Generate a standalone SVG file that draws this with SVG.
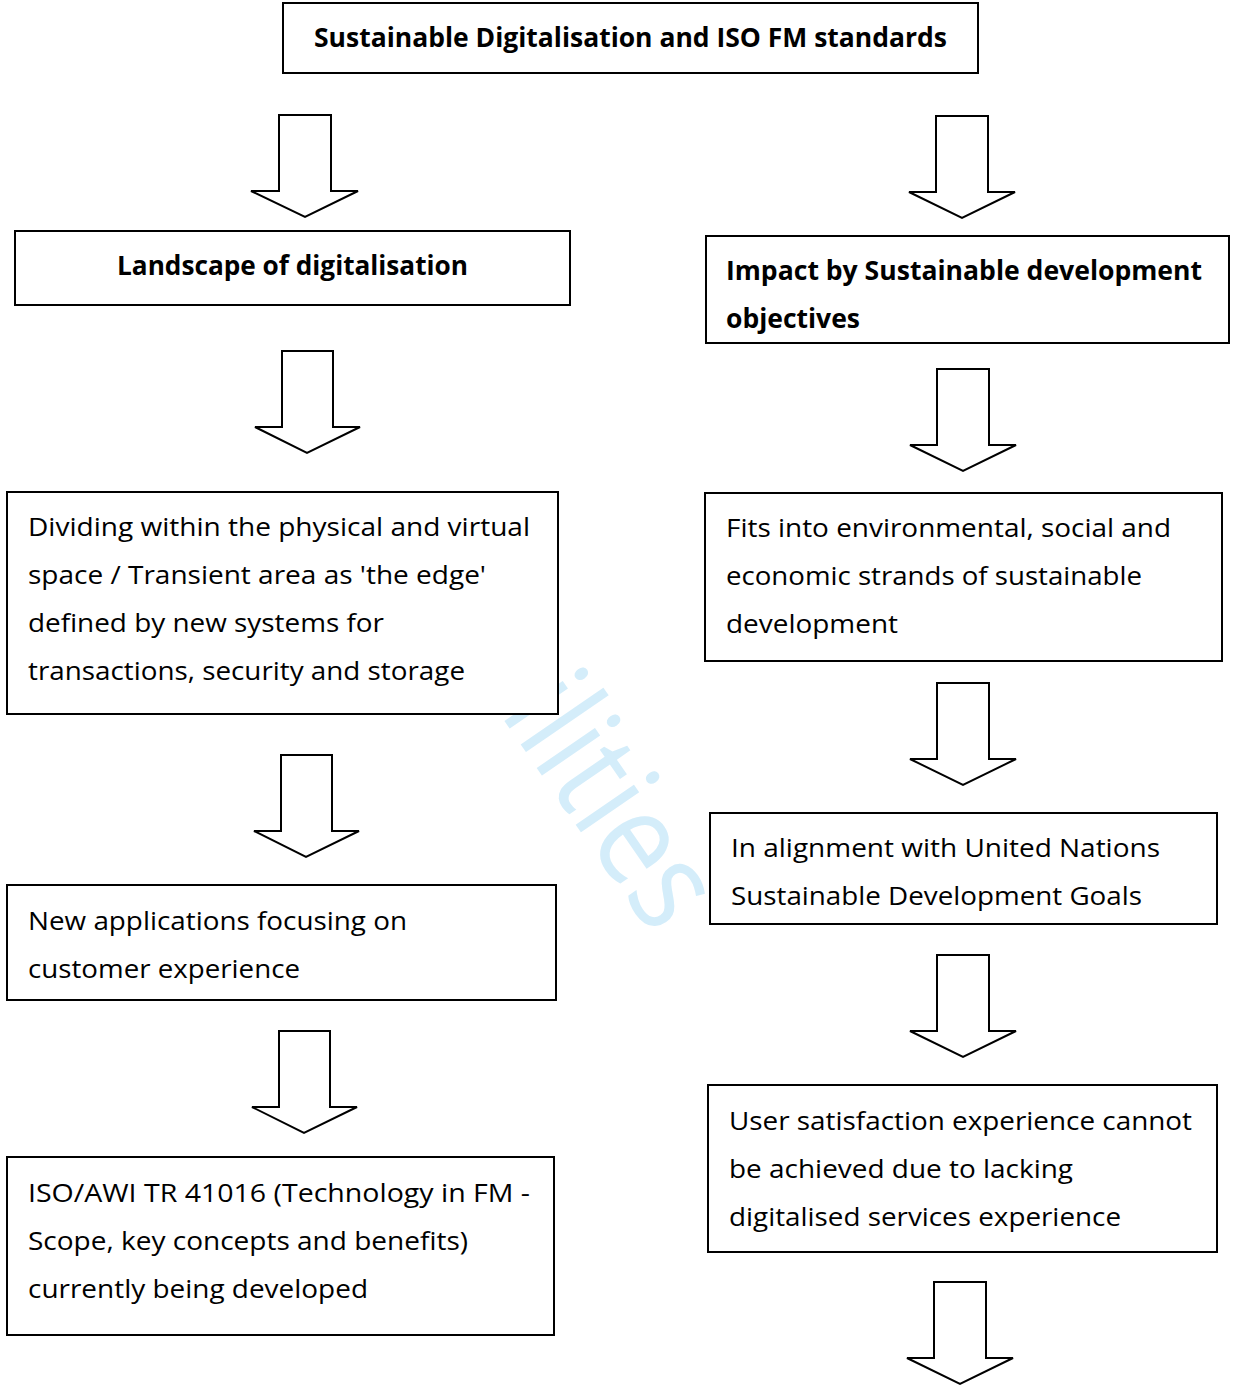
<svg xmlns="http://www.w3.org/2000/svg" width="1235" height="1394" viewBox="0 0 1235 1394">
<style>
.box{fill:#fff;stroke:#000;stroke-width:2}
.arr{fill:#fff;stroke:#000;stroke-width:2;stroke-linejoin:miter}
.t{font-family:"Open Sans","Noto Sans","Liberation Sans",sans-serif;font-size:26px;fill:#000}
.b{font-family:"Open Sans","Noto Sans","Liberation Sans",sans-serif;font-size:26px;font-weight:bold;fill:#000}
.wm{font-family:"Open Sans","Noto Sans","Liberation Sans",sans-serif;font-size:132px;fill:#d4edfa}
</style>
<rect width="1235" height="1394" fill="#fff"/>
<text class="wm" transform="translate(499,713) rotate(55.5)" textLength="272" lengthAdjust="spacingAndGlyphs">ilities</text>
<g id="connectors">
<path class="arr" d="M279,115 H331 V191 H358 L305,217 L251,191 H279 Z"/>
<path class="arr" d="M936,116 H988 V192 H1015 L962,218 L909,192 H936 Z"/>
<path class="arr" d="M282,351 H333 V427 H360 L307,453 L255,427 H282 Z"/>
<path class="arr" d="M937,369 H989 V445 H1016 L963,471 L910,445 H937 Z"/>
<path class="arr" d="M937,683 H989 V759 H1016 L963,785 L910,759 H937 Z"/>
<path class="arr" d="M281,755 H332 V831 H359 L306,857 L254,831 H281 Z"/>
<path class="arr" d="M937,955 H989 V1031 H1016 L963,1057 L910,1031 H937 Z"/>
<path class="arr" d="M279,1031 H330 V1107 H357 L304,1133 L252,1107 H279 Z"/>
<path class="arr" d="M934,1282 H986 V1358 H1013 L960,1384 L907,1358 H934 Z"/>
</g>
<g id="title">
<rect class="box" x="283" y="3" width="695" height="70"/>
<text class="b" x="314" y="47" textLength="633" lengthAdjust="spacingAndGlyphs">Sustainable Digitalisation and ISO FM standards</text>
</g>
<g id="landscape">
<rect class="box" x="15" y="231" width="555" height="74"/>
<text class="b" x="117" y="275" textLength="351" lengthAdjust="spacingAndGlyphs">Landscape of digitalisation</text>
</g>
<g id="impact">
<rect class="box" x="706" y="236" width="523" height="107"/>
<text class="b" x="726" y="280" textLength="476" lengthAdjust="spacingAndGlyphs">Impact by Sustainable development</text>
<text class="b" x="726" y="328" textLength="134" lengthAdjust="spacingAndGlyphs">objectives</text>
</g>
<g id="dividing">
<rect class="box" x="7" y="492" width="551" height="222"/>
<text class="t" x="28" y="536" textLength="502" lengthAdjust="spacingAndGlyphs">Dividing within the physical and virtual</text>
<text class="t" x="28" y="584" textLength="458" lengthAdjust="spacingAndGlyphs">space / Transient area as 'the edge'</text>
<text class="t" x="28" y="632" textLength="356" lengthAdjust="spacingAndGlyphs">defined by new systems for</text>
<text class="t" x="28" y="680" textLength="437" lengthAdjust="spacingAndGlyphs">transactions, security and storage</text>
</g>
<g id="fits">
<rect class="box" x="705" y="493" width="517" height="168"/>
<text class="t" x="726" y="537" textLength="445" lengthAdjust="spacingAndGlyphs">Fits into environmental, social and</text>
<text class="t" x="726" y="585" textLength="416" lengthAdjust="spacingAndGlyphs">economic strands of sustainable</text>
<text class="t" x="726" y="633" textLength="172" lengthAdjust="spacingAndGlyphs">development</text>
</g>
<g id="alignment">
<rect class="box" x="710" y="813" width="507" height="111"/>
<text class="t" x="731" y="857" textLength="429" lengthAdjust="spacingAndGlyphs">In alignment with United Nations</text>
<text class="t" x="731" y="905" textLength="411" lengthAdjust="spacingAndGlyphs">Sustainable Development Goals</text>
</g>
<g id="newapps">
<rect class="box" x="7" y="885" width="549" height="115"/>
<text class="t" x="28" y="930" textLength="379" lengthAdjust="spacingAndGlyphs">New applications focusing on</text>
<text class="t" x="28" y="978" textLength="272" lengthAdjust="spacingAndGlyphs">customer experience</text>
</g>
<g id="user">
<rect class="box" x="708" y="1085" width="509" height="167"/>
<text class="t" x="729" y="1130" textLength="463" lengthAdjust="spacingAndGlyphs">User satisfaction experience cannot</text>
<text class="t" x="729" y="1178" textLength="344" lengthAdjust="spacingAndGlyphs">be achieved due to lacking</text>
<text class="t" x="729" y="1226" textLength="392" lengthAdjust="spacingAndGlyphs">digitalised services experience</text>
</g>
<g id="iso">
<rect class="box" x="7" y="1157" width="547" height="178"/>
<text class="t" x="28" y="1202" textLength="502" lengthAdjust="spacingAndGlyphs">ISO/AWI TR 41016 (Technology in FM -</text>
<text class="t" x="28" y="1250" textLength="440" lengthAdjust="spacingAndGlyphs">Scope, key concepts and benefits)</text>
<text class="t" x="28" y="1298" textLength="340" lengthAdjust="spacingAndGlyphs">currently being developed</text>
</g>
</svg>
